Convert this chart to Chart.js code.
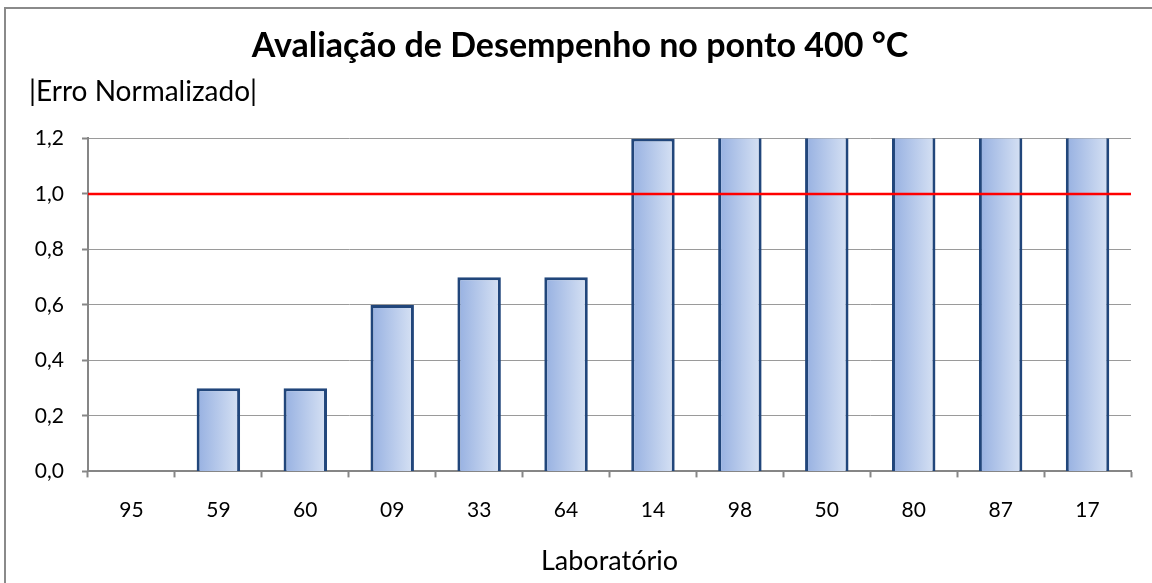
<!DOCTYPE html>
<html>
<head>
<meta charset="utf-8">
<script src="https://cdn.jsdelivr.net/npm/chart.js@4.4.1/dist/chart.umd.min.js"></script>
<style>
  html, body { margin: 0; padding: 0; background: #fff; }
  #wrap { position: relative; width: 1152px; height: 583px; }
  #frame { position: absolute; left: 4px; top: 7px; right: 0; bottom: 0; border-left: 2px solid #8a8a8a; border-top: 2px solid #8a8a8a; pointer-events: none; }
  canvas { position: absolute; left: 0; top: 0; }
</style>
</head>
<body>
<div id="wrap">
  <canvas id="c" width="1152" height="583"></canvas>
  <div id="frame"></div>
</div>
<script>
const categories = ["95", "59", "60", "09", "33", "64", "14", "98", "50", "80", "87", "17"];
const erroNormalizado = [0.0, 0.3, 0.3, 0.6, 0.7, 0.7, 1.2, 1.5, 1.5, 1.5, 1.5, 1.5];
const yTicks = [0.0, 0.2, 0.4, 0.6, 0.8, 1.0, 1.2];
const limite = 1.0;
const titleText = "Avaliação de Desempenho no ponto 400 °C";
const yTitleText = "|Erro Normalizado|";
const xTitleText = "Laboratório";

const FONT = "Lato, 'Open Sans', sans-serif";

const limitLine = {
  id: 'limitLine',
  afterDatasetsDraw(chart) {
    const { ctx, chartArea, scales } = chart;
    const y = scales.y.getPixelForValue(limite);
    ctx.save();
    ctx.strokeStyle = '#ff0000';
    ctx.lineWidth = 2.5;
    ctx.beginPath();
    ctx.moveTo(chartArea.left, y);
    ctx.lineTo(chartArea.right, y);
    ctx.stroke();
    ctx.restore();
  }
};

function barGradient(context) {
  const chart = context.chart;
  const xs = chart.scales && chart.scales.x;
  if (!chart.chartArea || !xs) return '#b3c6ea';
  const cx = xs.getPixelForValue(context.dataIndex);
  const w = (xs.width / categories.length) * 0.5;
  const g = chart.ctx.createLinearGradient(cx - w / 2, 0, cx + w / 2, 0);
  g.addColorStop(0, '#96b0e1');
  g.addColorStop(1, '#d7e2f4');
  return g;
}

new Chart(document.getElementById('c'), {
  type: 'bar',
  data: {
    labels: categories,
    datasets: [{
      data: erroNormalizado,
      backgroundColor: barGradient,
      borderColor: '#21467b',
      borderWidth: 3,
      categoryPercentage: 1.0,
      barPercentage: 0.5
    }]
  },
  options: {
    responsive: false,
    animation: false,
    devicePixelRatio: 1,
    layout: { padding: { left: 29, right: 21, top: 0, bottom: 6 } },
    plugins: {
      legend: { display: false },
      tooltip: { enabled: false },
      title: {
        display: true,
        text: titleText,
        color: '#000',
        font: { family: FONT, size: 34, weight: 'bold', lineHeight: 1.2 },
        padding: { top: 26, bottom: 8 }
      },
      subtitle: {
        display: true,
        text: yTitleText,
        align: 'start',
        color: '#000',
        font: { family: FONT, size: 28, lineHeight: 1.2 },
        padding: { top: 0, bottom: 30 }
      }
    },
    scales: {
      x: {
        grid: {
          offset: true,
          drawOnChartArea: false,
          drawTicks: true,
          tickLength: 6,
          color: '#868686',
          tickColor: '#868686',
          tickWidth: 2
        },
        border: { color: '#868686', width: 2 },
        ticks: { color: '#000', font: { family: FONT, size: 21 }, padding: 20 },
        title: {
          display: true,
          text: xTitleText,
          color: '#000',
          font: { family: FONT, size: 27, lineHeight: 1.2 },
          padding: { top: 2, bottom: 0 }
        }
      },
      y: {
        min: 0,
        max: 1.2,
        afterBuildTicks(scale) { scale.ticks = yTicks.map(v => ({ value: v })); },
        afterFit(scale) { scale.width = 59; },
        grid: {
          color: '#9a9a9a',
          lineWidth: 1,
          borderDash: [2, 2],
          drawTicks: true,
          tickLength: 6,
          tickColor: '#868686',
          tickBorderDash: [],
          tickWidth: 2
        },
        border: { color: '#868686', width: 2 },
        ticks: {
          color: '#000',
          font: { family: FONT, size: 21 },
          padding: 18,
          callback: (v) => Number(v).toFixed(1).replace('.', ',')
        }
      }
    }
  },
  plugins: [limitLine]
});
</script>
</body>
</html>
